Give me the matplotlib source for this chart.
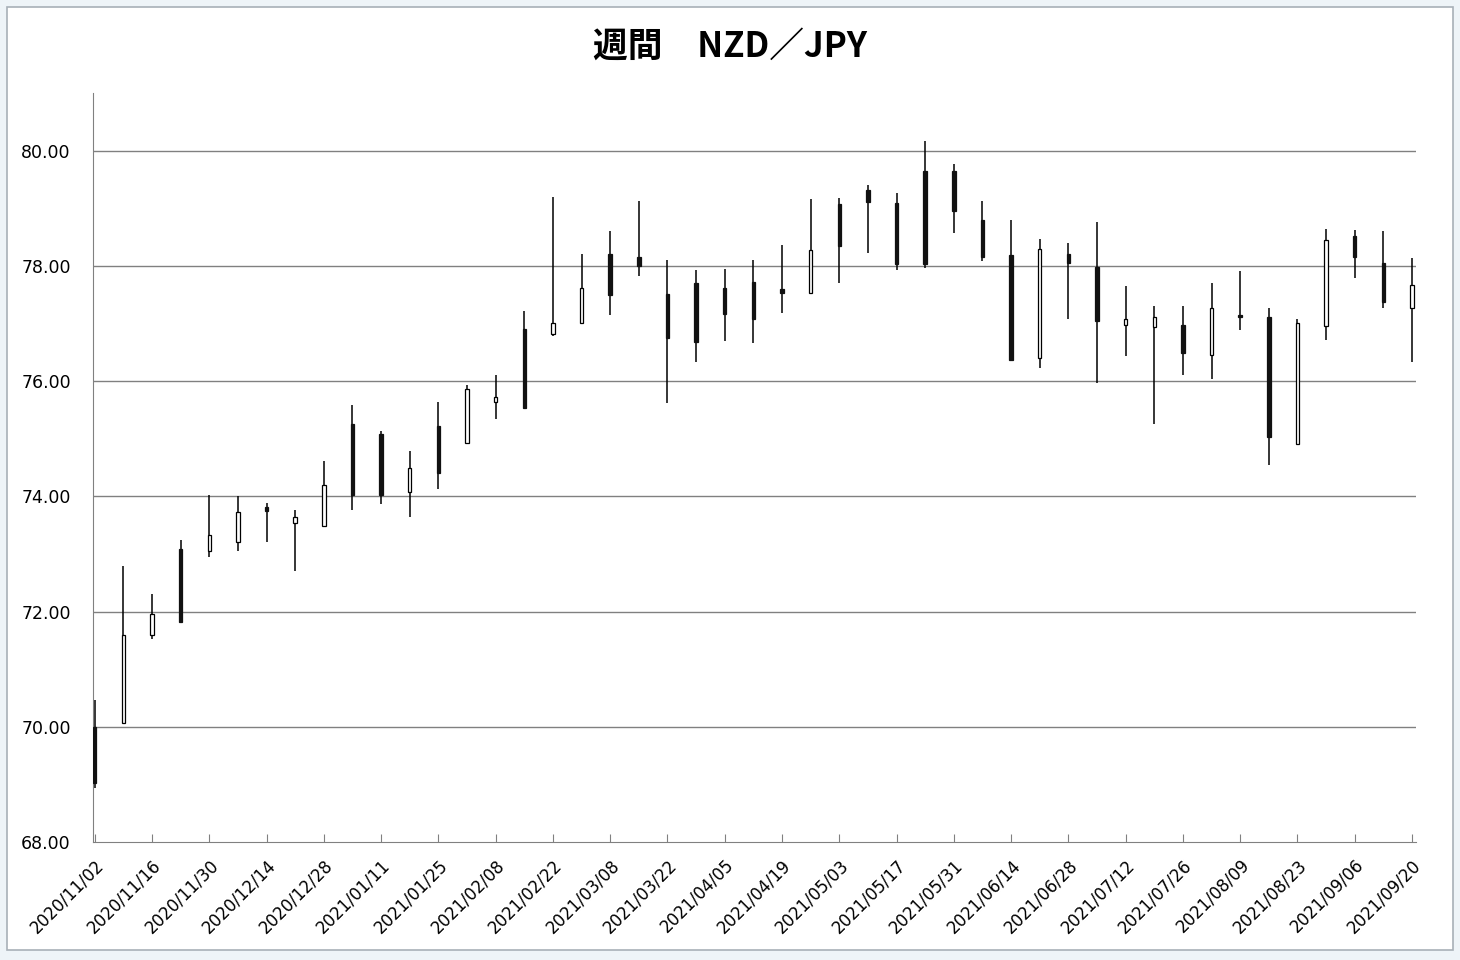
import numpy as np
import pandas as pd
import matplotlib
matplotlib.use('Agg')
import matplotlib.pyplot as plt
from matplotlib.patches import Rectangle

# weekly candles
weeks = pd.date_range('2020-11-02', periods=47, freq='7D')
opens = [70.00, 70.06, 71.60, 73.09, 73.05, 73.21, 73.82, 73.54, 73.49, 75.25,
         75.08, 74.07, 75.22, 74.92, 75.64, 76.91, 76.81, 77.01, 78.21, 78.16,
         77.51, 77.70, 77.62, 77.72, 77.60, 77.53, 79.08, 79.32, 79.09, 79.64,
         79.65, 78.80, 78.18, 76.40, 78.21, 77.98, 76.98, 76.93, 76.97, 76.46,
         77.15, 77.12, 74.90, 76.96, 78.51, 78.05, 77.26]
closes = [69.02, 71.60, 71.95, 71.82, 73.32, 73.72, 73.75, 73.64, 74.20, 74.03,
          74.03, 74.49, 74.41, 75.86, 75.73, 75.54, 77.00, 77.62, 77.49, 77.99,
          76.75, 76.68, 77.16, 77.07, 77.53, 78.27, 78.34, 79.10, 78.04, 78.04,
          78.96, 78.16, 76.36, 78.30, 78.05, 77.04, 77.08, 77.12, 76.49, 77.26,
          77.12, 75.03, 77.01, 78.45, 78.16, 77.37, 77.66]
highs = [70.46, 72.79, 72.31, 73.25, 74.02, 74.00, 73.89, 73.77, 74.61, 75.58,
         75.14, 74.78, 75.63, 75.94, 76.11, 77.21, 79.20, 78.21, 78.60, 79.13,
         78.11, 77.93, 77.95, 78.11, 78.37, 79.16, 79.18, 79.41, 79.27, 80.17,
         79.77, 79.13, 78.80, 78.47, 78.40, 78.76, 77.65, 77.30, 77.30, 77.71,
         77.91, 77.27, 77.07, 78.64, 78.62, 78.60, 78.14]
lows = [68.94, 70.06, 71.52, 71.82, 72.95, 73.05, 73.21, 72.71, 73.49, 73.77,
        73.87, 73.64, 74.12, 74.92, 75.35, 75.54, 76.79, 77.01, 77.14, 77.82,
        75.62, 76.33, 76.69, 76.66, 77.18, 77.53, 77.70, 78.22, 77.93, 77.97,
        78.57, 78.08, 76.34, 76.22, 77.07, 75.96, 76.44, 75.26, 76.11, 76.04,
        76.89, 74.54, 74.90, 76.71, 77.79, 77.26, 76.33]
yticks = [68, 70, 72, 74, 76, 78, 80]

x = np.arange(len(weeks))
o = np.array(opens); c = np.array(closes)
h = np.array(highs); l = np.array(lows)
up = c >= o

fig = plt.figure(figsize=(14.6, 9.6), dpi=100, facecolor='#eef4f8')
# chart frame
fig.patches.append(Rectangle((7 / 1460, 10 / 960), 1446 / 1460, 943 / 960,
                             transform=fig.transFigure, facecolor='white',
                             edgecolor='#a8b0b8', lw=1.2, zorder=-5))

ax = fig.add_axes([93 / 1460, 118 / 960, 1323 / 1460, 749 / 960])
ax.set_facecolor('none')

# wicks
ax.vlines(x, l, h, color='black', lw=1.1, zorder=3)
# bodies
bottoms = np.minimum(o, c)
heights = np.maximum(np.abs(c - o), 0.02)
ax.bar(x[up], heights[up], bottom=bottoms[up], width=0.12,
       facecolor='white', edgecolor='black', lw=0.9, zorder=4)
ax.bar(x[~up], heights[~up], bottom=bottoms[~up], width=0.12,
       facecolor='#111111', edgecolor='#111111', lw=0.9, zorder=4)

ax.set_ylim(68, 81)
ax.set_xlim(-0.06, 46.14)
ax.set_yticks(yticks)
ax.set_yticklabels([f'{t:.2f}' for t in yticks], fontsize=12.5)
for t in yticks[1:]:
    ax.axhline(t, color='#808080', lw=1.0, zorder=1)

ax.set_xticks(x[::2])
ax.set_xticklabels([d.strftime('%Y/%m/%d') for d in weeks[::2]], fontsize=12,
                   rotation=45, ha='right', va='top', rotation_mode='anchor')
ax.tick_params(axis='y', length=0, pad=16)
ax.tick_params(axis='x', direction='in', length=6, color='#808080', pad=10)

for s in ['top', 'right']:
    ax.spines[s].set_visible(False)
ax.spines['left'].set_color('#808080')
ax.spines['bottom'].set_color('#808080')

fig.text(0.5, 1 - 46 / 960, '週間　NZD／JPY', ha='center', va='center',
         fontsize=25, fontweight='bold',
         family=['Noto Sans CJK JP', 'DejaVu Sans'])

fig.savefig('out.png', dpi=100, facecolor=fig.get_facecolor())
